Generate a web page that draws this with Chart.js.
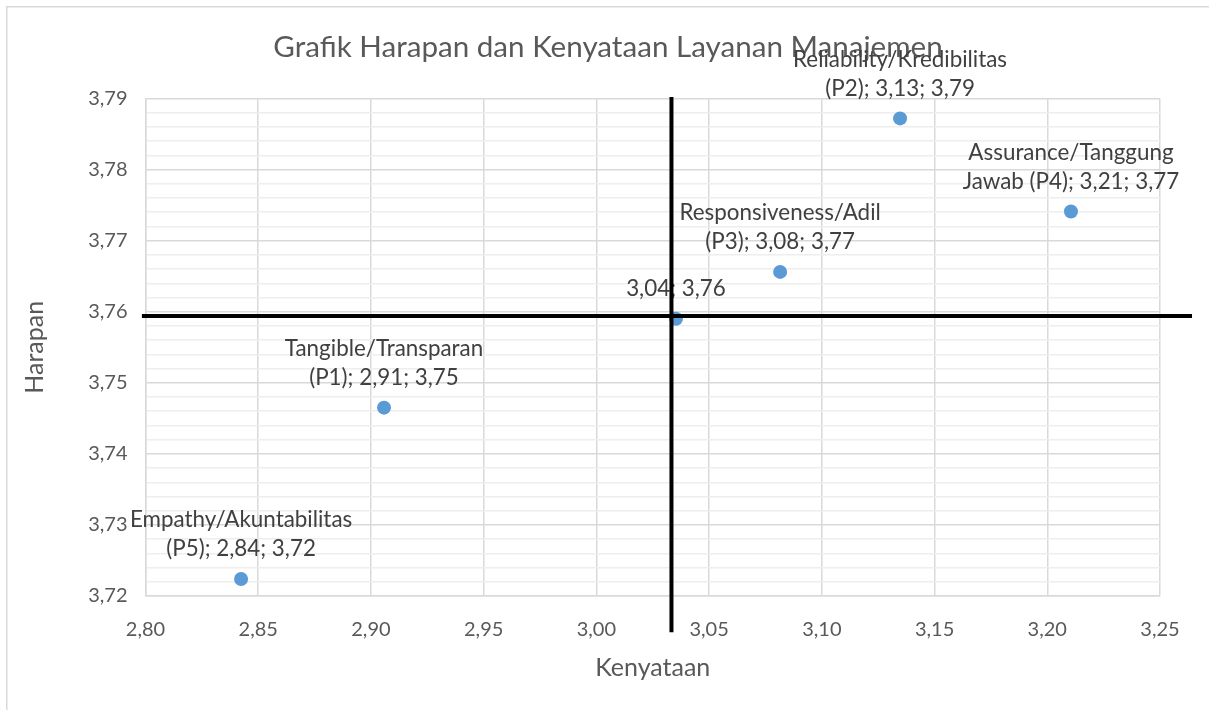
<!DOCTYPE html>
<html><head><meta charset="utf-8">
<script src="https://cdn.jsdelivr.net/npm/chart.js@4.4.1/dist/chart.umd.min.js"></script>
<style>html,body{margin:0;padding:0;background:#fff;}#wrap{width:1209px;height:710px;}</style>
</head><body><div id="wrap"><canvas id="c" width="1209" height="710"></canvas></div>
<script>
const chartTitle = 'Grafik Harapan dan Kenyataan Layanan Manajemen';
const xAxisTitle = 'Kenyataan';
const yAxisTitle = 'Harapan';
// series: Kenyataan (x) and Harapan (y)
const kenyataan = [2.9058, 3.1347, 3.0815, 3.2105, 2.8424, 3.0353];
const harapan   = [3.7465, 3.7872, 3.7656, 3.7741, 3.7224, 3.7590];
const nameHead  = ['Tangible/Transparan', 'Reliability/Kredibilitas', 'Responsiveness/Adil', 'Assurance/Tanggung', 'Empathy/Akuntabilitas', ''];
const nameTail  = ['(P1)', '(P2)', '(P3)', 'Jawab (P4)', '(P5)', ''];
// quadrant lines
const vLineX = [3.0333, 3.0333];
const vLineY = [3.7902, 3.7149];
const hLineX = [2.7984, 3.2642];
const hLineY = [3.7594, 3.7594];
// tick labels
const xTickValues = [2.80, 2.85, 2.90, 2.95, 3.00, 3.05, 3.10, 3.15, 3.20, 3.25];
const yTickValues = [3.72, 3.73, 3.74, 3.75, 3.76, 3.77, 3.78, 3.79];
const yMinorPerMajor = 5;

const fmt = v => v.toFixed(2).replace('.', ',');
const FONT = 'Lato';
const GRAY = '#595959';

const pts = kenyataan.map((x, i) => ({x, y: harapan[i]}));
const vLine = vLineX.map((x, i) => ({x, y: vLineY[i]}));
const hLine = hLineX.map((x, i) => ({x, y: hLineY[i]}));

const frame = {
  id: 'frame',
  beforeDraw(chart) {
    const ctx = chart.ctx;
    ctx.save();
    ctx.fillStyle = '#fff';
    ctx.fillRect(0, 0, chart.width, chart.height);
    ctx.strokeStyle = '#d9d9d9';
    ctx.lineWidth = 1.5;
    ctx.strokeRect(6.75, 6.75, 1400, 1400);
    ctx.fillStyle = GRAY;
    ctx.font = '29.6px ' + FONT;
    ctx.textAlign = 'center';
    ctx.textBaseline = 'middle';
    ctx.fillText(chartTitle, 608, 47);
    ctx.restore();
  }
};

const dataLabels = {
  id: 'dataLabels',
  afterDatasetDraw(chart, args) {
    if (args.index !== 0) return;
    const ctx = chart.ctx;
    ctx.save();
    ctx.fillStyle = '#404040';
    ctx.font = '22.4px ' + FONT;
    ctx.textAlign = 'center';
    ctx.textBaseline = 'middle';
    args.meta.data.forEach((el, i) => {
      const tail = nameTail[i] ? nameTail[i] + '; ' : '';
      const line2 = tail + fmt(kenyataan[i]) + '; ' + fmt(harapan[i]);
      ctx.fillText(line2, el.x, el.y - 30);
      if (nameHead[i]) ctx.fillText(nameHead[i], el.x, el.y - 59);
    });
    ctx.restore();
  }
};

new Chart(document.getElementById('c'), {
  type: 'scatter',
  data: {
    datasets: [
      {data: pts, backgroundColor: '#5B9BD5', borderColor: '#5B9BD5', borderWidth: 0, pointRadius: 7, order: 2},
      {data: vLine, showLine: true, borderColor: '#000', borderWidth: 4, pointRadius: 0, clip: false, order: 1},
      {data: hLine, showLine: true, borderColor: '#000', borderWidth: 4, pointRadius: 0, clip: false, order: 1}
    ]
  },
  options: {
    responsive: false,
    animation: false,
    devicePixelRatio: 1,
    layout: {padding: {top: 98.5, right: 49, left: 0, bottom: 0}},
    plugins: {legend: {display: false}, tooltip: {enabled: false}, title: {display: false}},
    scales: {
      x: {
        type: 'linear', min: 2.80, max: 3.25,
        afterBuildTicks: s => { s.ticks = xTickValues.map(v => ({value: v})); },
        afterFit: s => { s.height = 114; },
        ticks: {callback: v => fmt(v), color: GRAY, font: {family: FONT, size: 20}, padding: 22, maxRotation: 0, autoSkip: false},
        grid: {color: '#d9d9d9', lineWidth: 1.5, drawTicks: false},
        border: {color: '#d9d9d9', width: 1.5},
        title: {display: true, text: xAxisTitle, color: GRAY, font: {family: FONT, size: 25}, padding: {top: 0, bottom: 27}}
      },
      y: {
        type: 'linear', min: 3.72, max: 3.79,
        afterBuildTicks: s => {
          const t = [];
          yTickValues.forEach((v, i) => {
            t.push({value: v, isMajor: true});
            if (i < yTickValues.length - 1) {
              const step = (yTickValues[i + 1] - v) / yMinorPerMajor;
              for (let k = 1; k < yMinorPerMajor; k++) t.push({value: v + k * step, isMajor: false});
            }
          });
          s.ticks = t;
        },
        afterFit: s => { s.width = 145.5; },
        ticks: {
          callback: (v, i, ticks) => ticks[i].isMajor ? fmt(v) : '',
          color: GRAY, font: {family: FONT, size: 20}, padding: 18, autoSkip: false
        },
        grid: {
          color: c => (c.tick && c.tick.isMajor) ? '#d9d9d9' : '#eeeeee',
          lineWidth: 1.5, drawTicks: false
        },
        border: {color: '#d9d9d9', width: 1.5},
        title: {display: true, text: yAxisTitle, color: GRAY, font: {family: FONT, size: 25}, padding: {top: 20, bottom: 0}}
      }
    }
  },
  plugins: [frame, dataLabels]
});
</script></body></html>
